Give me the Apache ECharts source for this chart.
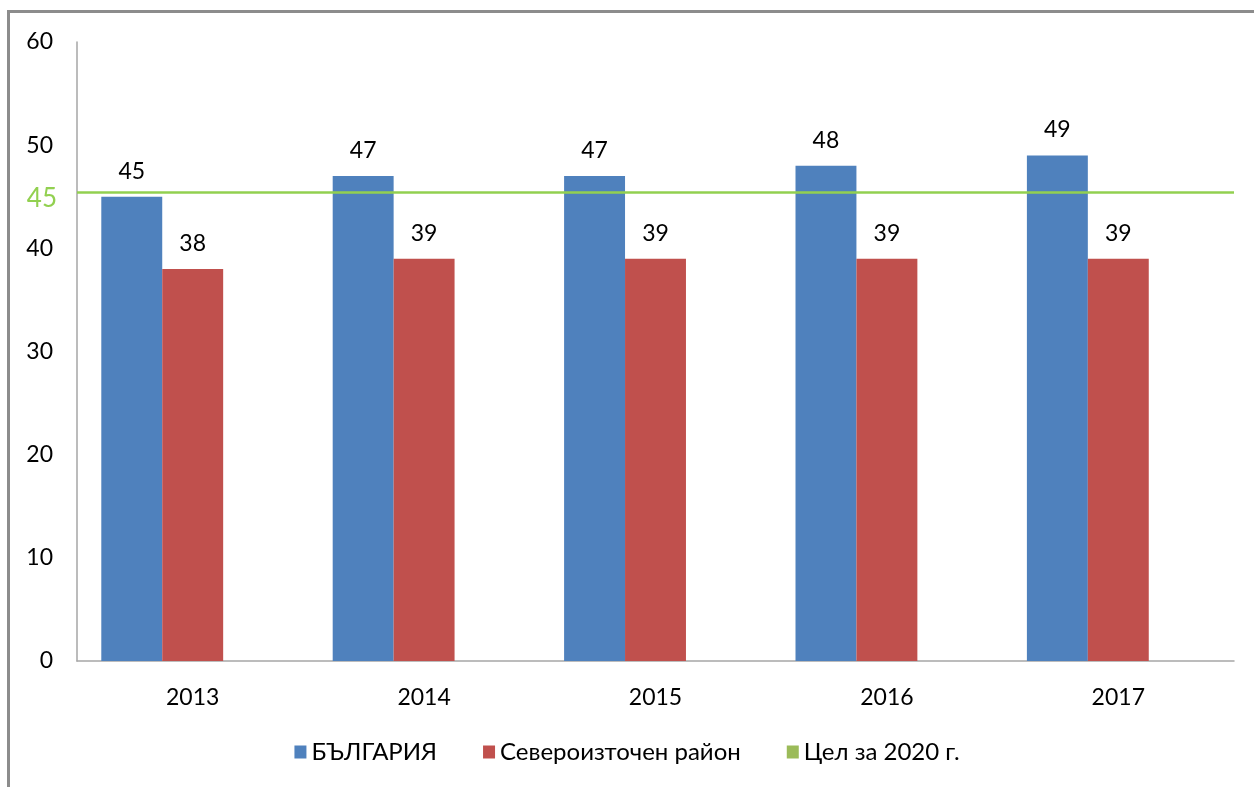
<!DOCTYPE html>
<html>
<head>
<meta charset="utf-8">
<script src="https://cdn.jsdelivr.net/npm/echarts@6/dist/echarts.min.js"></script>
<style>
  html, body { margin: 0; padding: 0; background: #fff; }
  #main { width: 1254px; height: 787px; }
  .frame {
    position: absolute;
    left: 7px;
    top: 10px;
    width: 1260px;
    height: 800px;
    border-left: 3px solid #8c8c8c;
    border-top: 3px solid #8c8c8c;
    pointer-events: none;
  }
</style>
</head>
<body>
<div id="main"></div>
<div class="frame"></div>
<script>
const years = ["2013", "2014", "2015", "2016", "2017"];
const bulgaria = [45, 47, 47, 48, 49];
const northEast = [38, 39, 39, 39, 39];
const target = [null, null, null, null, null];
const targetLevel = 45.4;
const seriesNames = ["БЪЛГАРИЯ", "Североизточен район", "Цел за 2020 г."];

const font = "Lato, 'Open Sans', sans-serif";
let chart = echarts.init(document.getElementById("main"));

const labelStyle = {
  show: true,
  position: "top",
  distance: 14,
  fontSize: 23,
  fontFamily: font,
  color: "#000",
};

let option = {
  backgroundColor: "#fff",
  animation: false,
  grid: {
    left: 77,
    right: 20,
    top: 42,
    bottom: 126,
  },
  legend: {
    bottom: 18,
    left: "center",
    itemWidth: 12,
    itemHeight: 13,
    itemGap: 46,
    icon: "rect",
    textStyle: { fontSize: 24, fontFamily: font, color: "#000" },
    data: seriesNames,
  },
  xAxis: {
    type: "category",
    data: years,
    axisLine: { lineStyle: { color: "#a6a6a6", width: 1.5 } },
    axisTick: { show: false },
    axisLabel: { fontSize: 23, fontFamily: font, color: "#000", margin: 25 },
  },
  yAxis: {
    type: "value",
    min: 0,
    max: 60,
    interval: 10,
    splitLine: { show: false },
    axisLine: { show: true, lineStyle: { color: "#a6a6a6", width: 1.5 } },
    axisTick: { show: false },
    axisLabel: { fontSize: 23, fontFamily: font, color: "#000", margin: 24 },
  },
  series: [
    {
      name: seriesNames[0],
      type: "bar",
      data: bulgaria,
      barGap: "0%",
      barCategoryGap: "21%",
      itemStyle: { color: "#4f81bd" },
      label: labelStyle,
    },
    {
      name: seriesNames[1],
      type: "bar",
      data: northEast,
      itemStyle: { color: "#c0504d" },
      label: labelStyle,
    },
    {
      name: seriesNames[2],
      type: "bar",
      data: target,
      itemStyle: { color: "#9bbb59" },
      markLine: {
        symbol: "none",
        silent: true,
        lineStyle: { color: "#92d050", width: 2.5, type: "solid" },
        label: {
          show: true,
          position: "start",
          formatter: "45",
          distance: 20,
          fontSize: 26,
          fontFamily: font,
          color: "#92d050",
          offset: [0, 6],
        },
        data: [{ yAxis: targetLevel }],
      },
    },
  ],
};

chart.setOption(option);
</script>
</body>
</html>
